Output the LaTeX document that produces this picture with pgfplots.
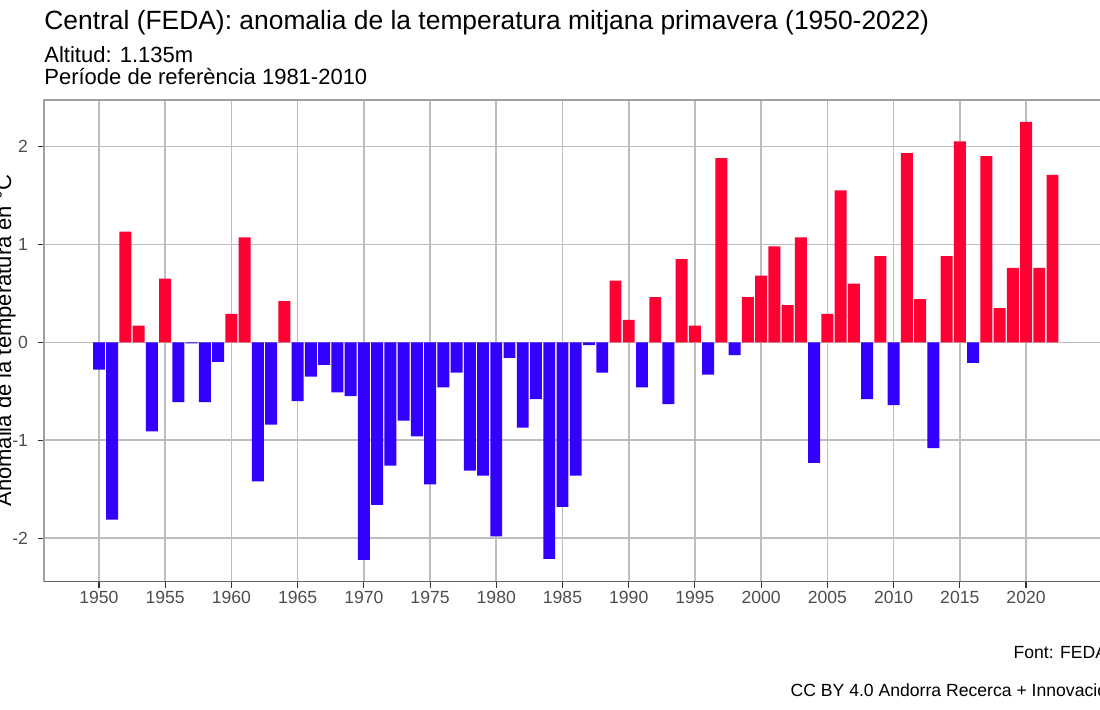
\documentclass[border=0pt]{standalone}
\usepackage{fontspec}
\setmainfont{Liberation Sans}
\usepackage{pgfplots}
\pgfplotsset{compat=1.18}

\definecolor{warm}{RGB}{255,0,51}
\definecolor{cold}{RGB}{51,0,255}
\definecolor{gridgrey}{RGB}{190,190,190}
\definecolor{framegrey}{RGB}{160,160,160}
\definecolor{axisgrey}{RGB}{102,102,102}
\definecolor{ticktext}{RGB}{77,77,77}

\begin{document}
\begin{tikzpicture}
% page: 550pt x 355pt (1 px of the 1100x710 image = 0.5pt), origin top left
\useasboundingbox (0pt,0pt) rectangle (550pt,-355pt);

\begin{axis}[
  at={(22pt,-290.85pt)}, anchor=south west,
  scale only axis, width=531.75pt, height=240.85pt,
  xmin=1945.85, xmax=2026.15,
  ymin=-2.4435, ymax=2.4735,
  xtick={1950,1955,...,2020},
  ytick={-2,-1,0,1,2},
  /pgf/number format/1000 sep={},
  /pgf/number format/assume math mode=true,
  tick pos=left, tick align=outside,
  major tick length=3pt,
  tick style={draw=black!80, line width=0.55pt},
  grid=major,
  major grid style={draw=gridgrey, line width=0.8pt},
  axis line style={draw=framegrey, line width=0.8pt},
  ticklabel style={font=\fontsize{8.8}{10}\selectfont, text=ticktext},
  xticklabel style={anchor=base, yshift=-8pt},
  yticklabel style={anchor=east, xshift=-1.5pt},
  ybar, bar width=0.9, bar shift=0pt,
  axis on top=false,
]
% spring anomalies above the 1981-2010 mean
\addplot[fill=warm, draw=none] coordinates {
  (1952,1.13) (1953,0.17) (1955,0.65) (1960,0.29) (1961,1.07) (1964,0.42)
  (1989,0.63) (1990,0.23) (1992,0.46) (1994,0.85) (1995,0.17) (1997,1.88)
  (1999,0.46) (2000,0.68) (2001,0.98) (2002,0.38) (2003,1.07) (2005,0.29)
  (2006,1.55) (2007,0.60) (2009,0.88) (2011,1.93) (2012,0.44) (2014,0.88)
  (2015,2.05) (2017,1.90) (2018,0.35) (2019,0.76) (2020,2.25) (2021,0.76)
  (2022,1.71)
};
% spring anomalies below the mean
\addplot[fill=cold, draw=none] coordinates {
  (1950,-0.28) (1951,-1.81) (1954,-0.91) (1956,-0.61) (1957,-0.01) (1958,-0.61)
  (1959,-0.20) (1962,-1.42) (1963,-0.84) (1965,-0.60) (1966,-0.35) (1967,-0.23)
  (1968,-0.51) (1969,-0.55) (1970,-2.22) (1971,-1.66) (1972,-1.26) (1973,-0.80)
  (1974,-0.96) (1975,-1.45) (1976,-0.46) (1977,-0.31) (1978,-1.31) (1979,-1.36)
  (1980,-1.98) (1981,-0.16) (1982,-0.87) (1983,-0.58) (1984,-2.21) (1985,-1.68)
  (1986,-1.36) (1987,-0.03) (1988,-0.31) (1991,-0.46) (1993,-0.63) (1996,-0.33)
  (1998,-0.13) (2004,-1.23) (2008,-0.58) (2010,-0.64) (2013,-1.08) (2016,-0.21)
};
\draw[axisgrey, line width=0.9pt] (rel axis cs:0,0) -- (rel axis cs:1,0);
\end{axis}

% titles
\node[anchor=base west, inner sep=0pt, font=\fontsize{13.2}{15}\selectfont]
  at (22pt,-15pt) {Central (FEDA): anomalia de la temperatura mitjana primavera (1950-2022)};
\node[anchor=base west, inner sep=0pt, font=\fontsize{11}{13}\selectfont]
  at (22pt,-31.5pt) {Altitud: 1.135m};
\node[anchor=base west, inner sep=0pt, font=\fontsize{11}{13}\selectfont]
  at (22pt,-42.5pt) {Període de referència 1981-2010};

% y axis title, partly outside the page as in the reference
\node[anchor=base, rotate=90, inner sep=0pt, font=\fontsize{11}{13}\selectfont]
  at (5.5pt,-170.4pt) {Anomalia de la temperatura en °C};

% captions, right aligned to the panel edge
\node[anchor=base east, inner sep=0pt, font=\fontsize{8.8}{10}\selectfont]
  at (553.75pt,-329.5pt) {Font: FEDA};
\node[anchor=base east, inner sep=0pt, font=\fontsize{8.8}{10}\selectfont]
  at (553.75pt,-348.5pt) {CC BY 4.0 Andorra Recerca + Innovació};
\end{tikzpicture}
\end{document}
